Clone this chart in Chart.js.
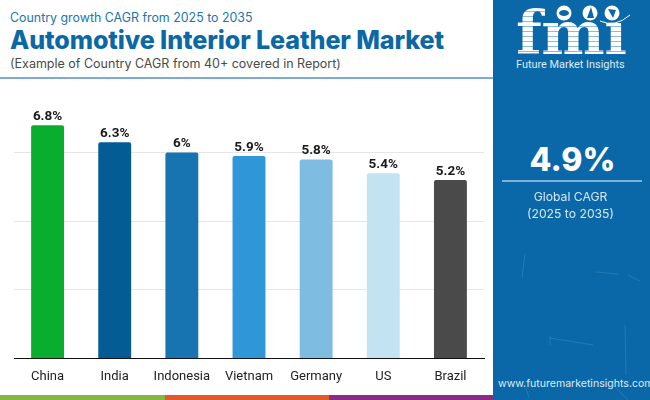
<!DOCTYPE html>
<html lang="en">
<head>
  <meta charset="UTF-8">
  <title>Automotive Interior Leather Market</title>
  <script src="https://cdn.jsdelivr.net/npm/chart.js"></script>
  <style>
    html, body { margin: 0; padding: 0; }
    body { width: 650px; height: 400px; position: relative; overflow: hidden; background: #fff; font-family: "Open Sans", sans-serif; }
    .abs { position: absolute; white-space: nowrap; }
    #sub { left: 10px; top: 10px; font: 400 12.4px Inter, sans-serif; color: #2075ad; }
    #title { left: 10px; top: 25px; font: 800 25.1px Inter, sans-serif; color: #0a68a5; letter-spacing: -0.1px; }
    #note { left: 10px; top: 56px; font: 400 12.5px Inter, sans-serif; color: #4a4a4a; }
    #rule { left: 0; top: 77px; width: 493px; height: 2px; background: #7fabcd; }
    #panel { left: 493px; top: 0; width: 157px; height: 400px; background: #0a68a8; }
    #logo { left: 516px; top: -3px; font: 700 60px/72px "DejaVu Serif", serif; letter-spacing: -0.5px;
      background: repeating-linear-gradient(180deg, #fff 0 4px, #8dbbdc 4px 5px);
      -webkit-background-clip: text; background-clip: text; color: transparent; }
    #brand { left: 516px; top: 58px; font: 400 10.9px Roboto, sans-serif; color: #dcebf6; }
    #big { left: 494px; top: 140px; width: 157px; text-align: center; font: 800 32px Inter, sans-serif; color: #fff; }
    #line2 { left: 502px; top: 180px; width: 140px; height: 2px; background: #7fb0d6; }
    #glob { left: 492px; top: 189px; width: 157px; text-align: center; font: 400 12.2px/16.5px Inter, sans-serif; color: #d6e8f5; }
    #url { left: 498px; top: 377px; font: 400 10.55px Inter, sans-serif; color: #dcebf6; }
    #deco { left: 493px; top: 0; }
    .strip { top: 395px; height: 5px; }
    #chartBox { left: 0; top: 80px; width: 493px; height: 315px; }
  </style>
</head>
<body>
  <div class="abs" id="sub">Country growth CAGR from 2025 to 2035</div>
  <div class="abs" id="title">Automotive Interior Leather Market</div>
  <div class="abs" id="note">(Example of Country CAGR from 40+ covered in Report)</div>
  <div class="abs" id="rule"></div>

  <div class="abs" id="chartBox"><canvas id="cagrChart" width="493" height="315"></canvas></div>

  <div class="abs strip" style="left:0;width:165px;background:#85b840"></div>
  <div class="abs strip" style="left:165px;width:164px;background:#e2592a"></div>
  <div class="abs strip" style="left:329px;width:164px;background:#8a2b85"></div>

  <div class="abs" id="panel"></div>
  <!-- logo globes and the faint scratches on the panel -->
  <svg class="abs" id="deco" width="157" height="400">
    <circle cx="71" cy="13" r="7.5" fill="#fff"/>
    <circle cx="97" cy="13" r="7.5" fill="#fff"/>
    <circle cx="119" cy="13" r="7.5" fill="#fff"/>
    <ellipse cx="71" cy="13" rx="5" ry="3" fill="#0a68a8"/>
    <path d="M94 18 L98 7 L101 18 Z" fill="#0a68a8"/>
    <path d="M115 9 L123 10 L120 18 Z" fill="#0a68a8"/>
    <path d="M107 21 Q122 28 137 15" fill="none" stroke="#fff" stroke-width="1"/>
    <g fill="none" stroke="#5fa3d0" stroke-width="1" opacity="0.3">
      <path d="M32 254 L29 278"/>
      <path d="M135 275 L147 281"/>
      <path d="M57 336 L57 345 M57 338 L100 345"/>
      <path d="M132 325 L133 375"/>
      <path d="M103 272 L125 274"/>
      <path d="M123 388 L135 400"/>
      <path d="M33 388 L36 398"/>
    </g>
  </svg>
  <div class="abs" id="logo">fmı</div>
  <div class="abs" id="brand">Future Market Insights</div>
  <div class="abs" id="big">4.9%</div>
  <div class="abs" id="line2"></div>
  <div class="abs" id="glob">Global CAGR<br>(2025 to 2035)</div>
  <div class="abs" id="url">www.futuremarketinsights.com</div>

  <script>
    const countries = ['China', 'India', 'Indonesia', 'Vietnam', 'Germany', 'US', 'Brazil'];
    const cagrValues = [6.8, 6.3, 6, 5.9, 5.8, 5.4, 5.2];
    const barColors = ['#0aae2e', '#045c94', '#1874b0', '#2f96d8', '#7fbce2', '#c3e2f2', '#4a4a4a'];
    const yTicks = [0, 2, 4, 6];

    // value labels above each bar
    const valueLabels = {
      id: 'valueLabels',
      afterDatasetsDraw(chart) {
        const ctx = chart.ctx;
        const meta = chart.getDatasetMeta(0);
        ctx.save();
        ctx.font = '700 13.5px Roboto, sans-serif';
        ctx.fillStyle = '#1a1a1a';
        ctx.textAlign = 'center';
        ctx.textBaseline = 'bottom';
        meta.data.forEach((bar, i) => {
          ctx.fillText(cagrValues[i] + '%', bar.x, bar.y - 2);
        });
        ctx.restore();
      }
    };

    new Chart(document.getElementById('cagrChart').getContext('2d'), {
      type: 'bar',
      data: {
        labels: countries,
        datasets: [{
          data: cagrValues,
          backgroundColor: barColors,
          borderRadius: 2,
          categoryPercentage: 1,
          barPercentage: 0.49
        }]
      },
      options: {
        responsive: false,
        animation: false,
        layout: { padding: { left: 14, right: 9, top: 4, bottom: 7 } },
        plugins: { legend: { display: false }, tooltip: { enabled: false } },
        scales: {
          x: {
            grid: { display: false },
            border: { color: '#111', width: 1 },
            ticks: { color: '#222', font: { family: 'Roboto', size: 13 }, padding: 3, maxRotation: 0 }
          },
          y: {
            min: 0,
            max: 8,
            afterBuildTicks(axis) { axis.ticks = yTicks.map(v => ({ value: v })); },
            afterFit(axis) { axis.width = 0; },
            grid: { color: '#e6e6e6', lineWidth: 1, drawTicks: false },
            border: { display: false },
            ticks: { display: false }
          }
        }
      },
      plugins: [valueLabels]
    });
  </script>
</body>
</html>
